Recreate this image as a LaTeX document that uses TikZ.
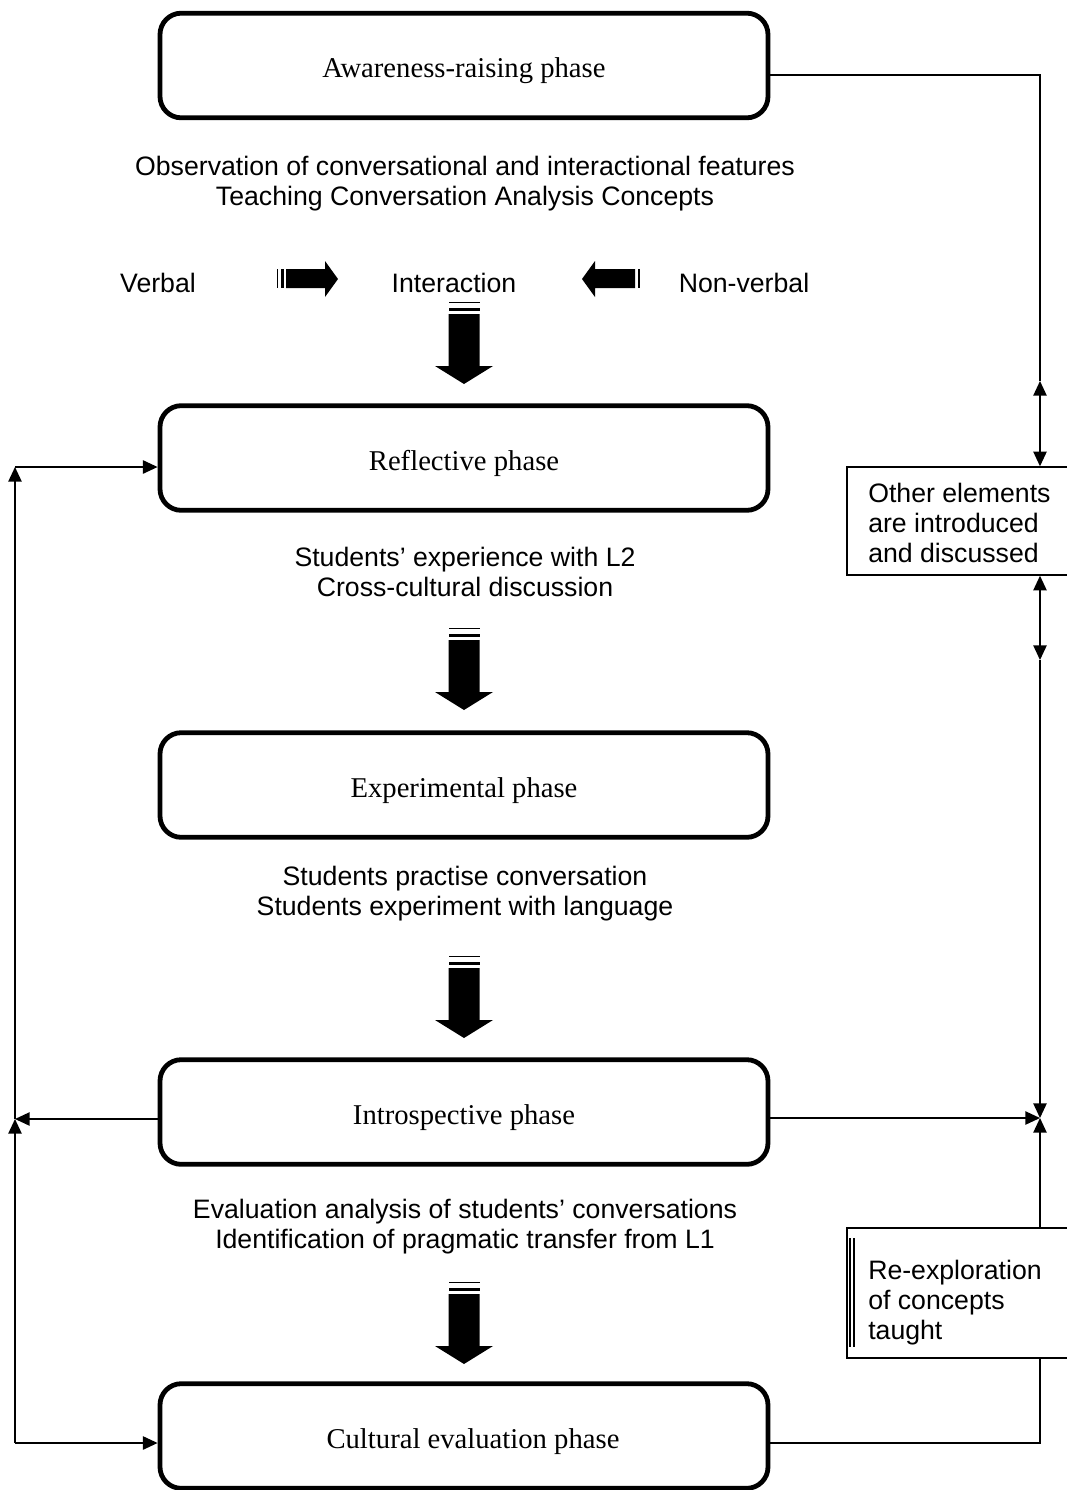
\documentclass[tikz,border=0pt]{standalone}
\usepackage{fontspec}
\setmainfont{Liberation Serif}
\setsansfont{Liberation Sans}
\usetikzlibrary{arrows.meta}
\tikzset{
  downarr/.pic={
    \fill (-15.5,0) rectangle (15.5,1.3);
    \fill (-15.5,6) rectangle (15.5,9);
    \fill (-15.5,12) -- (15.5,12) -- (15.5,64) -- (29,64) -- (0,82) -- (-29,64) -- (-15.5,64) -- cycle;
  }
}
\begin{document}
\begin{tikzpicture}[x=0.75pt,y=-0.75pt,
  >={Triangle[length=11pt,width=10pt]},
  phase/.style={draw, line width=3.6pt, rounded corners=16pt, minimum width=456pt,
    minimum height=78.5pt, inner sep=0pt, text height=19pt, text depth=1pt,
    font=\fontsize{21.5pt}{25pt}\selectfont},
  lbl/.style={font=\sffamily\fontsize{20pt}{22.5pt}\selectfont, align=center, inner sep=0pt},
  sidebox/.style={draw, line width=1.1pt, inner sep=0pt},
  conn/.style={line width=1.1pt}
]
\useasboundingbox (0,0) rectangle (1067,1490);
\clip (0,0) rectangle (1067,1490);

% phase boxes
\node[phase] (aw) at (464,65.5) {Awareness-raising phase};
\node[phase] (refl) at (464,458) {Reflective phase};
\node[phase] (expt) at (464,785) {Experimental phase};
\node[phase] (intro) at (464,1112) {Introspective phase};
\node[phase] (cult) at (464,1436) {\hspace*{13.5pt}Cultural evaluation phase};

% texts
\node[lbl] (obs) at (465,184) {Observation of conversational and interactional features\\Teaching Conversation Analysis Concepts};
\node[lbl] (verbal) at (158,283) {Verbal};
\node[lbl] (inter) at (454,283) {Interaction};
\node[lbl] (nonverbal) at (744,283) {Non-verbal};
\node[lbl] (refltxt) at (465,572) {Students' experience with L2\\Cross-cultural discussion};
\node[lbl] (exptxt) at (465,894) {Students practise conversation\\Students experiment with language};
\node[lbl] (introtxt) at (465,1227) {Evaluation analysis of students' conversations\\Identification of pragmatic transfer from L1};

% side boxes
\node[sidebox, minimum width=174.75pt, minimum height=81pt] (other) at (963.5,521) {};
\node[lbl, align=left, anchor=west] (othertxt) at (868,523) {Other elements\\are introduced\\and discussed};
\node[sidebox, minimum width=174.75pt, minimum height=97.5pt] (reexp) at (963.5,1293) {};
\node[lbl, align=left, anchor=west] (retext) at (868,1302.5) {Re-exploration\\of concepts\\taught};
\draw[line width=0.8pt] (850,1238) -- (850,1347);
\draw[line width=1.5pt] (853.5,1238) -- (853.5,1347);

% block arrows
\pic at (464,302) {downarr};
\pic at (464,628) {downarr};
\pic at (464,956) {downarr};
\pic at (464,1282) {downarr};

\fill (277,269) rectangle (278.3,288);
\fill (281,269) rectangle (284,288);
\fill (286,269) -- (325,269) -- (325,261) -- (338,279) -- (325,297) -- (325,288) -- (286,288) -- cycle;
\fill (638,269) rectangle (639.5,288);
\fill (635,269) -- (595,269) -- (595,261) -- (582,279) -- (595,297) -- (595,288) -- (635,288) -- cycle;

% coordinates
\coordinate (r1) at (1040,75);
\coordinate (r2) at (1040,381);
\coordinate (r3) at (1040,660);
\coordinate (r4) at (1040,1118);
\coordinate (r5) at (1040,1443);
\coordinate (l1) at (15,1119);
\coordinate (l2) at (15,467);
\coordinate (l3) at (15,1443);

% right connectors
\draw[conn] (aw.east |- r1) -- (r1) -- (r2);
\draw[conn,<->] (r2) -- (r2 |- other.north);
\draw[conn,<->] (r2 |- other.south) -- (r3);
\draw[conn,->] (r3) -- (r4);
\draw[conn,->] (intro.east |- r4) -- (r4);
\draw[conn,->] (reexp.north -| r4) -- (r4);
\draw[conn] (reexp.south -| r4) -- (r5) -- (cult.east |- r5);

% left connectors
\draw[conn,->] (intro.west |- l1) -- (l1);
\draw[conn,->] (l1) -- (l2);
\draw[conn,->] (l2) -- (refl.west |- l2);
\draw[conn,->] (l3) -- (l1);
\draw[conn,->] (l3) -- (cult.west |- l3);
\end{tikzpicture}
\end{document}
